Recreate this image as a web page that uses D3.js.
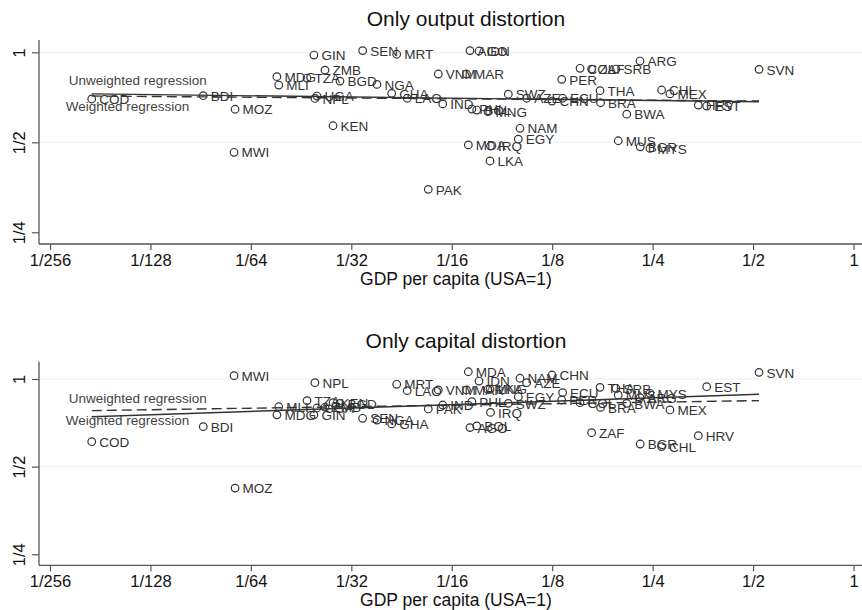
<!DOCTYPE html>
<html><head><meta charset="utf-8">
<script src="https://cdn.jsdelivr.net/npm/d3@7"></script>
<style>body{margin:0;background:#fff}svg{display:block}text{font-family:"Liberation Sans",Arial,sans-serif}</style>
</head><body><svg id="c" width="862" height="610"></svg>
<script>
const countries = ["COD","BDI","MOZ","MWI","MDG","MLI","GIN","TZA","ZMB","NPL","UGA","BGD","KEN","NGA","SEN","MRT","GHA","LAO","VNM","IND","PAK","MAR","AGO","IDN","MDA","PHL","BOL","MNG","IRQ","LKA","SWZ","NAM","EGY","AZE","CHN","ECU","PER","COL","ZAF","THA","BRA","SRB","MUS","ARG","BWA","BGR","MYS","CHL","MEX","HRV","EST","SVN"];
const gdp = [0.00521,0.01125,0.01401,0.01391,0.0187,0.01894,0.02414,0.02302,0.02606,0.02431,0.02465,0.0289,0.02755,0.03731,0.03379,0.04274,0.04129,0.04597,0.05696,0.05873,0.05315,0.0692,0.07087,0.07543,0.07007,0.0718,0.07424,0.08025,0.08167,0.08138,0.09233,0.1001,0.09895,0.1048,0.1248,0.1343,0.1335,0.1515,0.1641,0.1739,0.1745,0.1941,0.1972,0.2291,0.2091,0.2295,0.2455,0.266,0.2818,0.3427,0.363,0.521];
const outputDist = [0.698,0.716,0.645,0.463,0.829,0.777,0.979,0.820,0.872,0.701,0.714,0.801,0.568,0.781,1.013,0.985,0.729,0.702,0.846,0.672,0.348,0.846,1.013,1.010,0.490,0.646,0.641,0.633,0.486,0.433,0.724,0.557,0.512,0.702,0.687,0.702,0.812,0.884,0.879,0.744,0.678,0.879,0.506,0.935,0.621,0.483,0.477,0.748,0.726,0.666,0.661,0.877];
const capitalDist = [0.609,0.686,0.422,1.027,0.753,0.803,0.753,0.843,0.801,0.971,0.795,0.825,0.829,0.723,0.733,0.959,0.701,0.912,0.917,0.814,0.789,0.917,0.681,0.984,1.059,0.836,0.690,0.922,0.768,0.922,0.825,1.006,0.869,0.971,1.032,0.898,0.847,0.829,0.654,0.936,0.799,0.929,0.882,0.863,0.825,0.598,0.893,0.586,0.783,0.639,0.941,1.054];
const regX = [0.00521, 0.521];
const outputUnweighted = [0.714, 0.687];
const outputWeighted = [0.726, 0.683];
const capitalUnweighted = [0.779, 0.843];
const capitalWeighted = [0.742, 0.886];
const xTicks = [1/256,1/128,1/64,1/32,1/16,1/8,1/4,1/2,1];
const xTickLabels = ["1/256","1/128","1/64","1/32","1/16","1/8","1/4","1/2","1"];
const yTicks = [1/4,1/2,1];
const yTickLabels = ["1/4","1/2","1"];
const yGrid = [1/2,1];
const titles = ["Only output distortion","Only capital distortion"];
const xTitle = "GDP per capita (USA=1)";
const regLabels = ["Unweighted regression","Weighted regression"];

const svg = d3.select("#c");
const ink = "#333";
const x = d3.scaleLog().base(2).domain([1/256,1]).range([50,853.5]);

const panels = [
  {title: titles[0], vals: outputDist, unw: outputUnweighted, wtd: outputWeighted,
   yRange: [232.3, 52.3], top: 40, bottom: 244, titleY: 26, unwOff: -11, wtdOff: 17},
  {title: titles[1], vals: capitalDist, unw: capitalUnweighted, wtd: capitalWeighted,
   yRange: [554.3, 379], top: 361.7, bottom: 565.3, titleY: 348, unwOff: -8, wtdOff: 8.5}
];
const axisLeft = 39, rightEdge = 862;

panels.forEach(p => {
  const y = d3.scaleLog().base(2).domain([0.25,1]).range(p.yRange);
  const g = svg.append("g");
  g.selectAll(".grid").data(yGrid).join("line")
    .attr("x1", axisLeft).attr("x2", rightEdge)
    .attr("y1", d => y(d)).attr("y2", d => y(d))
    .attr("stroke", "#eeeeee").attr("stroke-width", 1);
  g.append("text").attr("x", 466).attr("y", p.titleY).attr("text-anchor","middle")
    .attr("font-size", 21).attr("fill", "#111").text(p.title);
  const xa = g.append("g").attr("transform", `translate(0,${p.bottom})`)
    .call(d3.axisBottom(x).tickValues(xTicks).tickFormat((d,i)=>xTickLabels[i]).tickSize(6).tickPadding(4));
  xa.select(".domain").remove();
  xa.selectAll("line").attr("stroke", "#555").attr("stroke-width", 1.2);
  xa.selectAll("text").attr("font-size", 16.5).attr("fill", "#111")
    .attr("font-family", '"Liberation Sans",Arial,sans-serif');
  const ya = g.append("g").attr("transform", `translate(${axisLeft},0)`)
    .call(d3.axisLeft(y).tickValues(yTicks).tickFormat((d,i)=>yTickLabels[i]).tickSize(7).tickPadding(0));
  ya.select(".domain").remove();
  ya.selectAll("line").attr("stroke", "#555").attr("stroke-width", 1.2);
  ya.selectAll("text").attr("font-size", 16.5).attr("fill", "#111")
    .attr("font-family", '"Liberation Sans",Arial,sans-serif')
    .attr("text-anchor","middle").attr("dy", 0)
    .attr("transform", "translate(-14,0) rotate(-90)").attr("x", 0).attr("y", 0);
  g.append("line").attr("x1", axisLeft).attr("x2", axisLeft).attr("y1", p.top).attr("y2", p.bottom)
    .attr("stroke","#555").attr("stroke-width",1.3);
  g.append("line").attr("x1", axisLeft).attr("x2", rightEdge).attr("y1", p.bottom).attr("y2", p.bottom)
    .attr("stroke","#555").attr("stroke-width",1.3);
  g.append("text").attr("x", 456).attr("y", p.bottom + 41).attr("text-anchor","middle")
    .attr("font-size", 17.5).attr("fill","#111").text(xTitle);

  const line = d3.line().x(d => x(d[0])).y(d => y(d[1]));
  g.append("path").datum(regX.map((v,i)=>[v,p.unw[i]])).attr("d", line)
    .attr("fill","none").attr("stroke", ink).attr("stroke-width",1.4).attr("stroke-dasharray","10,5");
  g.append("path").datum(regX.map((v,i)=>[v,p.wtd[i]])).attr("d", line)
    .attr("fill","none").attr("stroke", ink).attr("stroke-width",1.4);
  g.append("text").attr("x", x(regX[0]) - 23).attr("y", y(p.unw[0]) + p.unwOff)
    .attr("font-size", 13.5).attr("fill", "#444").text(regLabels[0]);
  g.append("text").attr("x", x(regX[0]) - 26).attr("y", y(p.wtd[0]) + p.wtdOff)
    .attr("font-size", 13.5).attr("fill", "#444").text(regLabels[1]);

  const pts = countries.map((c,i)=>({c, gx: gdp[i], v: p.vals[i]}));
  g.selectAll(".pt").data(pts).join("circle")
    .attr("cx", d => x(d.gx)).attr("cy", d => y(d.v)).attr("r", 3.8)
    .attr("fill","none").attr("stroke", ink).attr("stroke-width", 1.2);
  g.selectAll(".lb").data(pts).join("text")
    .attr("x", d => x(d.gx) + 7.5).attr("y", d => y(d.v) + 5.2)
    .attr("font-size", 13.5).attr("fill", ink).text(d => d.c);
});
</script></body></html>
